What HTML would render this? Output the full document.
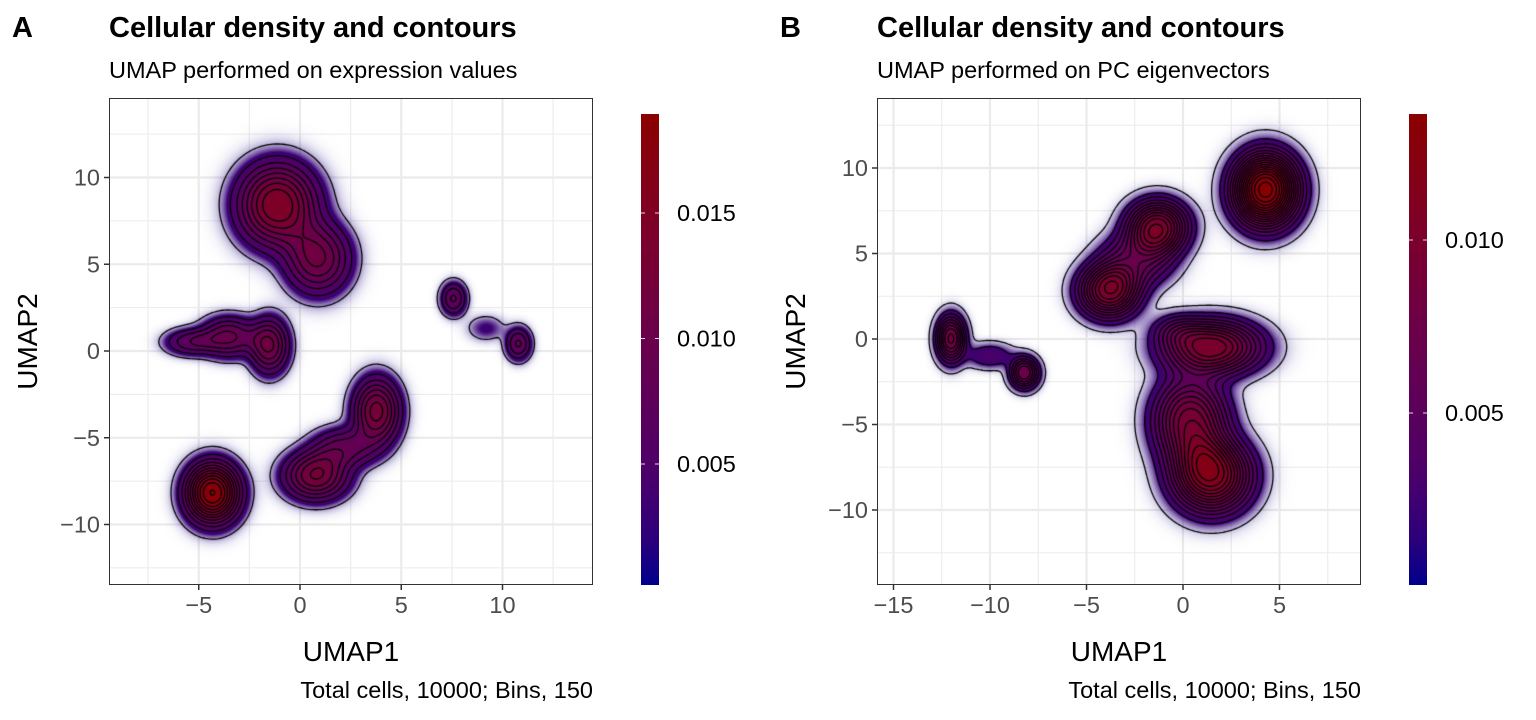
<!DOCTYPE html>
<html><head><meta charset="utf-8">
<style>
body{margin:0;background:#fff;width:1536px;height:720px;overflow:hidden;font-family:"Liberation Sans",sans-serif;position:relative}
svg text{font-family:"Liberation Sans",sans-serif}
</style></head><body>
<svg id="svg" width="1536" height="720" style="position:absolute;left:0;top:0">
<text x="12" y="37" font-size="29" font-weight="bold">A</text>
<text x="109" y="37" font-size="29" font-weight="bold">Cellular density and contours</text>
<text x="109" y="78" font-size="23.5">UMAP performed on expression values</text>
<text x="593" y="698" font-size="23.5" text-anchor="end">Total cells, 10000; Bins, 150</text>
<text x="780" y="37" font-size="29" font-weight="bold">B</text>
<text x="877" y="37" font-size="29" font-weight="bold">Cellular density and contours</text>
<text x="877" y="78" font-size="23.5">UMAP performed on PC eigenvectors</text>
<text x="1361" y="698" font-size="23.5" text-anchor="end">Total cells, 10000; Bins, 150</text>
</svg>
<canvas id="cA" width="484" height="487" style="position:absolute;left:109px;top:98px"></canvas>
<canvas id="cB" width="484" height="487" style="position:absolute;left:877px;top:98px"></canvas>
<svg id="svg2" width="1536" height="720" style="position:absolute;left:0;top:0;pointer-events:none"></svg>
<script>
// Panel A clusters
const aCx=[-1.1,0.9,-3.5,-1.5,-5.4,-4.3,0.8,3.8,2.2,7.6,10.8,9.2];
const aCy=[8.4,5.3,0.8,0.3,0.5,-8.2,-7.2,-3.5,-5.6,3.0,0.4,1.3];
const aSx=[1.35,1.1,0.95,0.66,0.88,0.92,1.1,0.8,1.1,0.44,0.44,0.66];
const aSy=[1.65,1.4,0.8,1.1,0.53,1.2,0.97,1.32,0.8,0.66,0.66,0.53];
const aPk=[0.0135,0.009,0.0075,0.009,0.005,0.0185,0.0105,0.011,0.006,0.0058,0.0058,0.0018];
const aXTicks=[-5,0,5,10], aYTicks=[-10,-5,0,5,10], aBarTicks=[0.005,0.010,0.015];
// Panel B clusters
const bCx=[4.3,-1.3,-3.8,-2.4,-12,-8.2,-10,1.5,0.4,1.5,-0.3];
const bCy=[8.7,6.5,2.8,4.6,0,-2,-1,-0.5,-4.8,-8,0.5];
const bSx=[1.19,1.1,1.1,1.32,0.53,0.53,0.88,1.76,1.32,1.41,0.88];
const bSy=[1.5,1.1,1.1,1.1,0.97,0.66,0.53,1.1,1.76,1.5,0.66];
const bPk=[0.0136,0.009,0.009,0.004,0.007,0.006,0.002,0.009,0.008,0.0105,0.002];
const bXTicks=[-15,-10,-5,0,5], bYTicks=[-10,-5,0,5,10], bBarTicks=[0.005,0.010];

const NS="http://www.w3.org/2000/svg", svg=document.getElementById('svg'), svg2=document.getElementById('svg2');
function el(t,a,p){const e=document.createElementNS(NS,t);for(const k in a)e.setAttribute(k,a[k]);(p||svg).appendChild(e);return e;}
const CS=[[0,[0,0,139]],[0.1,[45,0,122]],[0.25,[78,0,104]],[0.5,[104,0,78]],[0.75,[124,0,42]],[1,[139,0,0]]];
function colAt(t){
  for(let i=0;i<CS.length-1;i++){if(t<=CS[i+1][0]){const u=(t-CS[i][0])/(CS[i+1][0]-CS[i][0]);return CS[i][1].map((v,k)=>Math.round(v+(CS[i+1][1][k]-v)*u));}}
  return CS[CS.length-1][1];
}
const fmt=v=>(v<0?'\u2212':'')+Math.abs(v);
function panel(o){
  const {L,T,W,H,x0,xs,y0,ys,xt,yt,cx,cy,sx,sy,pk,step,barL,barTop,bar0,barS,bt,barMax,id,nm}=o;
  const X=v=>x0+v*xs, Y=v=>y0-v*ys;
  const g=el('g',{});
  el('rect',{x:L,y:T,width:W,height:H,fill:'#fff'},g);
  const xmin=(L-x0)/xs,xmax=(L+W-x0)/xs,ymax=(y0-T)/ys,ymin=(y0-T-H)/ys;
  for(let k=Math.ceil(xmin/2.5);k*2.5<=xmax;k++){const maj=k%2===0;
    el('line',{x1:X(k*2.5),x2:X(k*2.5),y1:T,y2:T+H,stroke:'#ebebeb','stroke-width':maj?2.2:1.1},g);}
  for(let k=Math.ceil(ymin/2.5);k*2.5<=ymax;k++){const maj=k%2===0;
    el('line',{y1:Y(k*2.5),y2:Y(k*2.5),x1:L,x2:L+W,stroke:'#ebebeb','stroke-width':maj?2.2:1.1},g);}
  const c=document.getElementById(id),ctx=c.getContext('2d');
  const img=ctx.createImageData(W,H);
  const dens=(px,py)=>{const xv=(L+px-x0)/xs,yv=(y0-T-py)/ys;let d=0;
    for(let i=0;i<cx.length;i++){const dx=(xv-cx[i])/sx[i],dy=(yv-cy[i])/sy[i];d+=pk[i]*Math.exp(-0.5*Math.pow(dx*dx+dy*dy,1.15));}return d;};
  const D=new Float32Array(W*H);
  for(let py=0;py<H;py++)for(let px=0;px<W;px++){const d=dens(px+0.5,py+0.5);D[py*W+px]=d;
    const a=Math.min(1,Math.pow(d/(barMax*0.09),1.3));const cc=colAt(Math.pow(Math.min(1,d/barMax),0.75));const k=(py*W+px)*4;
    img.data[k]=cc[0];img.data[k+1]=cc[1];img.data[k+2]=cc[2];img.data[k+3]=Math.round(a*255);}
  ctx.putImageData(img,0,0);
  ctx.strokeStyle='#000';ctx.lineWidth=1.3;ctx.beginPath();
  const gs=2;
  for(let lv=step*0.5;lv<barMax;lv+=step){
    for(let py=0;py+gs<H;py+=gs)for(let px=0;px+gs<W;px+=gs){
      const v=[D[py*W+px],D[py*W+px+gs],D[(py+gs)*W+px+gs],D[(py+gs)*W+px]];
      const P=[[px,py],[px+gs,py],[px+gs,py+gs],[px,py+gs]];
      const pts=[];
      for(let e=0;e<4;e++){const a=v[e],b=v[(e+1)%4];if((a<lv)!==(b<lv)){const u=(lv-a)/(b-a);const A=P[e],B=P[(e+1)%4];pts.push([A[0]+(B[0]-A[0])*u,A[1]+(B[1]-A[1])*u]);}}
      for(let q=0;q+1<pts.length;q+=2){ctx.moveTo(pts[q][0],pts[q][1]);ctx.lineTo(pts[q+1][0],pts[q+1][1]);}
    }
  }
  ctx.stroke();
  el('rect',{x:L+0.5,y:T+0.5,width:W-1,height:H-1,fill:'none',stroke:'#333','stroke-width':1,},svg2);
  xt.forEach(v=>{el('line',{x1:X(v),x2:X(v),y1:T+H,y2:T+H+5,stroke:'#333','stroke-width':1.5},g);
    const t=el('text',{x:X(v),y:T+H+28,'text-anchor':'middle','font-size':23.5,fill:'#4d4d4d',},g);t.textContent=fmt(v);});
  yt.forEach(v=>{el('line',{x1:L-5,x2:L,y1:Y(v),y2:Y(v),stroke:'#333','stroke-width':1.5},g);
    const t=el('text',{x:L-9,y:Y(v)+8,'text-anchor':'end','font-size':23.5,fill:'#4d4d4d',},g);t.textContent=fmt(v);});
  let t=el('text',{x:L+W/2,y:T+H+76,'text-anchor':'middle','font-size':28,},g);t.textContent='UMAP1';
  const yy=T+H/2, xx=L-72;
  t=el('text',{x:xx,y:yy,transform:`rotate(-90 ${xx} ${yy})`,'text-anchor':'middle','font-size':28,},g);t.textContent='UMAP2';
  const id2='grad'+nm;const df=el('defs',{},g);const lg=el('linearGradient',{id:id2,x1:0,y1:1,x2:0,y2:0},df);
  for(let i=0;i<=20;i++){const cc=colAt(i/20);el('stop',{offset:i/20,'stop-color':`rgb(${cc})`},lg);}
  el('rect',{x:barL,y:barTop,width:18,height:T+H-barTop,fill:`url(#${id2})`,},g);
  bt.forEach(v=>{const yb=bar0-v*barS;
    el('line',{x1:barL,x2:barL+4,y1:yb,y2:yb,stroke:'#ddd'},g);el('line',{x1:barL+14,x2:barL+18,y1:yb,y2:yb,stroke:'#ddd'},g);
    const tt=el('text',{x:barL+36,y:yb+8,'font-size':23.5,},g);tt.textContent=v.toFixed(3);});
}
panel({L:109,T:98,W:484,H:487,x0:300,xs:20.25,y0:351,ys:17.35,xt:aXTicks,yt:aYTicks,cx:aCx,cy:aCy,sx:aSx,sy:aSy,pk:aPk,step:0.0016,barL:641,barTop:114,bar0:589.5,barS:25100,bt:aBarTicks,barMax:0.01895,id:'cA',nm:'panel-a'});
panel({L:877,T:98,W:484,H:487,x0:1183,xs:19.3,y0:339,ys:17.1,xt:bXTicks,yt:bYTicks,cx:bCx,cy:bCy,sx:bSx,sy:bSy,pk:bPk,step:0.0008,barL:1409,barTop:114,bar0:586,barS:34600,bt:bBarTicks,barMax:0.01364,id:'cB',nm:'panel-b'});
</script>
</body></html>
